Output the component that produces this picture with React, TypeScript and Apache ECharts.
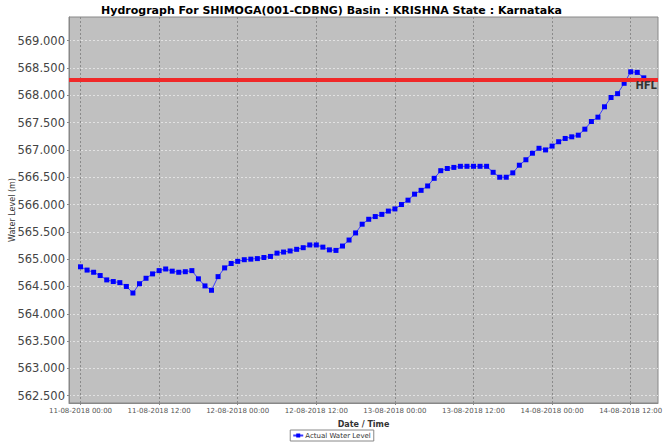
import React, { useEffect, useRef } from "react";
import * as echarts from "echarts";

const TITLE = "Hydrograph For SHIMOGA(001-CDBNG) Basin : KRISHNA State : Karnataka";
// hours since 11-08-2018 00:00
const xTickHours = [0, 12, 24, 36, 48, 60, 72, 84];
const yTickValues = [562.5, 563, 563.5, 564, 564.5, 565, 565.5, 566, 566.5, 567, 567.5, 568, 568.5, 569];
const HFL = 568.28;
const waterLevel = [
  564.86, 564.80, 564.76, 564.70, 564.62, 564.59, 564.57, 564.50, 564.38, 564.55,
  564.65, 564.73, 564.79, 564.82, 564.78, 564.76, 564.77, 564.79, 564.64, 564.51,
  564.43, 564.68, 564.84, 564.92, 564.96, 564.99, 565.00, 565.01, 565.03, 565.05,
  565.11, 565.13, 565.15, 565.18, 565.21, 565.26, 565.26, 565.22, 565.17, 565.16,
  565.24, 565.35, 565.48, 565.64, 565.73, 565.78, 565.82, 565.88, 565.92, 566.00,
  566.08, 566.19, 566.26, 566.34, 566.48, 566.62, 566.66, 566.68, 566.70, 566.70,
  566.70, 566.70, 566.70, 566.59, 566.50, 566.50, 566.58, 566.72, 566.82, 566.94,
  567.03, 567.00, 567.07, 567.15, 567.21, 567.24, 567.27, 567.38, 567.52, 567.60,
  567.79, 567.96, 568.03, 568.22, 568.43, 568.42, 568.32,
];

function fmtHour(h: number): string {
  const day = 11 + Math.floor(h / 24);
  const hh = Math.round(h % 24);
  return `${day}-08-2018 ${hh < 10 ? "0" + hh : hh}:00`;
}

export default function App() {
  const ref = useRef<HTMLDivElement>(null);
  useEffect(() => {
    document.body.style.margin = "0";
    const chart = echarts.init(ref.current!, null, { renderer: "svg" });
    const font = "DejaVu Sans";
    chart.setOption({
      animation: false,
      backgroundColor: "#ffffff",
      textStyle: { fontFamily: font },
      title: {
        text: TITLE,
        left: "center",
        top: 0,
        textStyle: { fontSize: 11, fontWeight: "bold", color: "#000", fontFamily: font },
      },
      legend: {
        bottom: 1,
        left: "center",
        data: ["Actual Water Level"],
        itemWidth: 10,
        itemHeight: 5,
        itemGap: 2,
        padding: [2, 3, 2, 2],
        borderColor: "#888",
        borderWidth: 1,
        backgroundColor: "#fff",
        textStyle: { fontSize: 7, color: "#333", padding: [0, 0, 0, -3] },
      },
      grid: {
        left: 69,
        top: 17,
        right: 5,
        bottom: 39,
        containLabel: false,
        outerBoundsMode: "none",
        show: true,
        backgroundColor: "#c0c0c0",
        borderColor: "#888",
        borderWidth: 1,
      },
      xAxis: {
        type: "value",
        min: -1.76,
        max: 88.17,
        name: "Date / Time",
        nameLocation: "middle",
        nameGap: 17,
        nameMoveOverlap: false,
        nameTextStyle: { fontSize: 8, fontWeight: "bold", color: "#333" },
        axisLine: { show: true, onZero: false, lineStyle: { color: "#888" } },
        axisTick: { show: true, length: 2, customValues: xTickHours, lineStyle: { color: "#888" } },
        axisLabel: {
          customValues: xTickHours,
          fontSize: 7,
          color: "#555",
          margin: 4,
          formatter: (v: number) => fmtHour(v),
        },
        splitLine: { show: true, lineStyle: { color: "#8a8a8a", type: [2, 2], width: 1 } },
      },
      yAxis: {
        type: "value",
        min: 562.366,
        max: 569.434,
        name: "Water Level (m)",
        nameLocation: "middle",
        nameGap: 53,
        nameMoveOverlap: false,
        nameTextStyle: { fontSize: 8, color: "#333" },
        axisLine: { show: true, onZero: false, lineStyle: { color: "#888" } },
        axisTick: { show: true, length: 2, customValues: yTickValues, lineStyle: { color: "#888" } },
        axisLabel: {
          customValues: yTickValues,
          fontSize: 11.5,
          color: "#444",
          margin: 4,
          formatter: (v: number) => v.toFixed(3),
        },
        splitLine: { show: true, lineStyle: { color: "#e2e2e2", type: [2, 2], width: 1 } },
      },
      series: [
        {
          name: "Actual Water Level",
          type: "line",
          data: waterLevel.map((v, i) => [i, v]),
          symbol: "rect",
          symbolSize: 5,
          itemStyle: { color: "#0000ff" },
          lineStyle: { color: "#3c3cff", width: 1 },
          markLine: {
            silent: true,
            symbol: "none",
            data: [{ yAxis: HFL }],
            lineStyle: { color: "#f02828", width: 4, type: "solid" },
            label: {
              show: true,
              position: "insideEndBottom",
              formatter: "HFL",
              fontSize: 10,
              fontWeight: "bold",
              color: "#333",
              distance: [1, 0],
            },
          },
          z: 3,
        },
      ],
    });
    return () => chart.dispose();
  }, []);
  return (
    <div
      ref={ref}
      style={{ position: "absolute", left: 0, top: 0, width: 663, height: 442 }}
    />
  );
}
